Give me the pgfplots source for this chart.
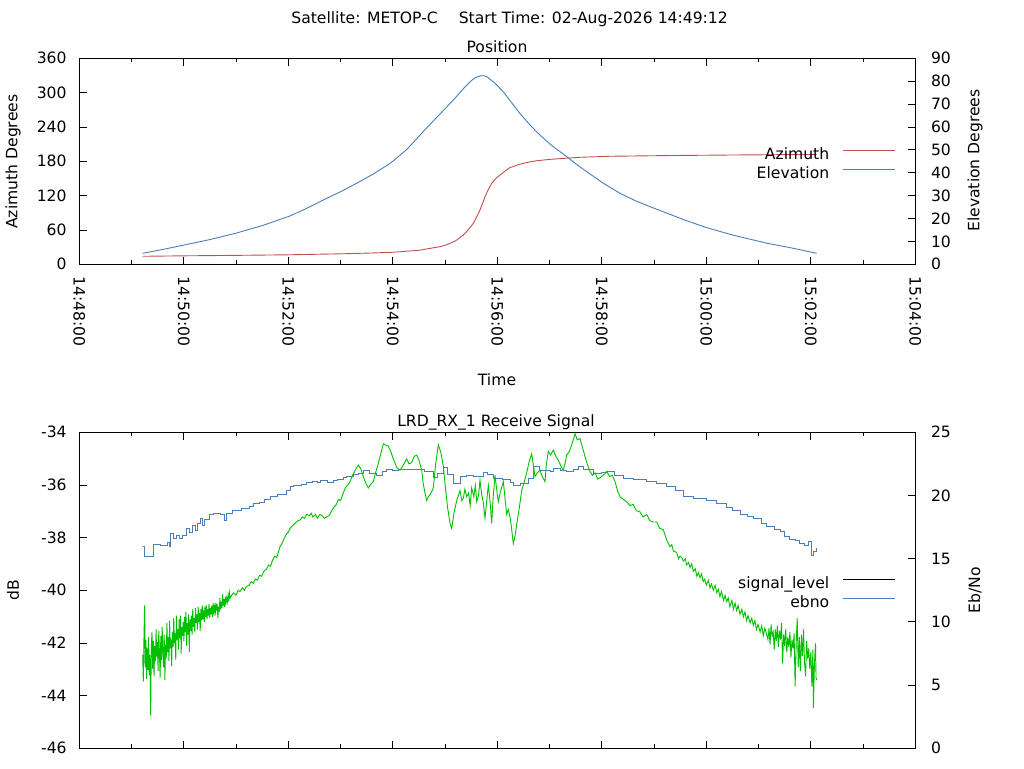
\documentclass[border=0pt]{standalone}
\usepackage{pgfplots}
\pgfplotsset{compat=1.18}
\usepackage{fontspec}
\setmainfont{DejaVu Sans}
\definecolor{azred}{RGB}{192,80,77}
\definecolor{elblue}{RGB}{74,126,187}
\definecolor{ebgreen}{RGB}{0,192,0}

\pgfplotsset{
  base/.style={
    scale only axis, width=836pt, xmin=0, xmax=16,
    xtick={0,2,...,16}, minor xtick={1,3,...,15},
    tick align=inside, major tick length=7.5pt, minor tick length=4pt,
    axis line style={line width=0.9pt}, every tick/.style={black, line width=0.9pt},
    /pgf/number format/assume math mode=true,
    font=\fontsize{15.6}{18}\selectfont,
    yticklabel style={anchor=east, inner xsep=12.5pt, inner ysep=0pt},
    legend style={draw=none, fill=none, inner sep=0pt, row sep=2.5pt, column sep=12pt,
      nodes={inner sep=1pt, text height=11.5pt, text depth=3pt}},
    legend plot pos=right, legend cell align=right,
    legend image code/.code={\draw[#1, line width=0.9pt] (0pt,4.5pt) -- (52pt,4.5pt);},
  },
  rightax/.style={base, hide x axis, ytick pos=right, yticklabel pos=right,
    yticklabel style={anchor=west, inner xsep=15.5pt, inner ysep=0pt}},
}

\begin{document}
\fontsize{15.6}{18}\selectfont
\begin{tikzpicture}
\path[use as bounding box] (0pt,0pt) rectangle (1024pt,768pt);

% ---------------- top panel : Position ----------------
\begin{axis}[base, at={(79.3pt,503.7pt)}, anchor=south west, height=206pt,
  ymin=0, ymax=360, ytick={0,60,...,360}, ytick pos=left,
  xticklabels={14:48:00,14:50:00,14:52:00,14:54:00,14:56:00,14:58:00,15:00:00,15:02:00,15:04:00},
  xticklabel style={rotate=-90, anchor=west, inner sep=12pt}]
\addplot[azred, line width=0.9pt] coordinates {
(1.213,14.0) (2.0,14.8) (3.0,15.6) (4.0,16.6) (5.0,18.3) (5.5,19.5) (6.0,21.0)
(6.5,24.5) (6.903,30.8) (7.03,34.0) (7.2,41.0) (7.349,51.0) (7.45,61.0) (7.541,71.6)
(7.60,82.0) (7.669,95.0) (7.72,107.0) (7.765,118.0) (7.83,131.0) (7.893,141.6)
(7.97,150.0) (8.052,156.0) (8.15,163.0) (8.243,169.0) (8.434,175.0) (8.60,178.5)
(8.754,181.0) (9.0,183.3) (9.263,185.0) (9.583,187.0) (10.16,188.8) (11.24,190.0)
(12.5,191.0) (14.113,192.0)
};
\end{axis}
\begin{axis}[rightax, at={(79.3pt,503.7pt)}, anchor=south west, height=206pt,
  ymin=0, ymax=90, ytick={0,10,...,90},
  legend style={at={(rel axis cs:1,0.5)}, anchor=east, xshift=-20pt, yshift=-3pt}]
\addlegendimage{azred}
\addlegendentry{Azimuth}
\addplot[elblue, line width=0.9pt] coordinates {
(1.213,4.8) (1.6,6.5) (2.0,8.4) (2.5,10.8) (3.0,13.6) (3.5,16.9) (4.03,21.1)
(4.35,24.4) (4.67,28.1) (5.0,31.7) (5.31,35.4) (5.63,39.5) (5.95,44.1) (6.27,50.2)
(6.58,57.9) (6.87,64.9) (7.16,71.8) (7.33,76.2) (7.48,79.8) (7.58,81.6) (7.67,82.3)
(7.74,82.4) (7.80,82.0) (7.95,79.2) (8.115,75.4) (8.27,70.7) (8.43,66.0) (8.59,61.8)
(8.75,57.9) (8.91,54.5) (9.07,51.4) (9.33,47.0) (9.52,43.6) (9.71,40.5) (10.03,35.4)
(10.35,31.0) (10.63,27.9) (10.92,25.2) (11.24,22.4) (11.6,19.2) (12.01,16.0)
(12.5,12.8) (13.16,9.2) (13.6,7.3) (14.113,4.8)
};
\addlegendentry{Elevation}
\end{axis}

% ---------------- bottom panel : Receive signal ----------------
\begin{axis}[base, at={(79.3pt,19.7pt)}, anchor=south west, height=316pt,
  ymin=-46, ymax=-34, ytick={-46,-44,...,-34}, ytick pos=left,
  yticklabels={-46,-44,-42,-40,-38,-36,-34},
  xticklabels={}]
\addplot[elblue, line width=0.9pt, const plot] coordinates {
(1.225,-38.32) (1.244,-38.70) (1.42,-38.24) (1.55,-38.28) (1.68,-38.20) (1.72,-38.35)
(1.74,-37.84) (1.80,-38.05) (1.85,-37.90) (1.92,-38.02) (1.98,-37.92) (2.06,-37.65)
(2.10,-37.80) (2.16,-37.55) (2.22,-37.72) (2.27,-37.45) (2.31,-37.27) (2.36,-37.55)
(2.40,-37.30) (2.50,-37.12) (2.56,-37.10) (2.70,-37.13) (2.78,-37.35) (2.82,-37.08)
(2.94,-36.95) (3.10,-36.88) (3.25,-36.80) (3.33,-36.72) (3.45,-36.68) (3.55,-36.55)
(3.65,-36.45) (3.80,-36.35) (3.97,-36.22) (4.05,-36.05) (4.09,-36.00) (4.25,-35.98)
(4.35,-35.90) (4.47,-35.85) (4.55,-35.92) (4.62,-35.82) (4.75,-35.90) (4.86,-35.81)
(4.95,-35.78) (5.05,-35.72) (5.12,-35.69) (5.25,-35.60) (5.35,-35.55) (5.435,-35.46)
(5.55,-35.55) (5.69,-35.62) (5.80,-35.50) (5.88,-35.41) (6.00,-35.45) (6.10,-35.40)
(6.25,-35.42) (6.46,-35.41) (6.60,-35.50) (6.78,-35.71) (6.85,-35.55) (6.97,-35.34)
(7.05,-35.60) (7.16,-35.96) (7.29,-35.66) (7.40,-35.62) (7.55,-35.68) (7.73,-35.53)
(7.82,-35.60) (7.92,-35.75) (8.05,-35.77) (8.10,-35.78) (8.25,-35.90) (8.31,-36.00)
(8.45,-35.94) (8.60,-35.75) (8.69,-35.31) (8.80,-35.45) (9.01,-35.50) (9.07,-35.37)
(9.20,-35.45) (9.33,-35.50) (9.45,-35.40) (9.55,-35.28) (9.65,-35.42) (9.84,-35.58)
(10.00,-35.52) (10.09,-35.50) (10.25,-35.62) (10.41,-35.77) (10.60,-35.80) (10.86,-35.85)
(11.05,-35.95) (11.24,-36.04) (11.40,-36.20) (11.56,-36.45) (11.75,-36.50) (12.01,-36.57)
(12.20,-36.70) (12.39,-36.85) (12.50,-36.95) (12.645,-37.11) (12.78,-37.20) (12.90,-37.27)
(13.05,-37.45) (13.16,-37.58) (13.30,-37.70) (13.41,-37.78) (13.50,-37.95) (13.60,-38.06)
(13.70,-38.10) (13.79,-38.22) (13.88,-38.30) (13.95,-38.15) (14.017,-38.66) (14.06,-38.52)
(14.113,-38.41)
};
\end{axis}
\begin{axis}[rightax, at={(79.3pt,19.7pt)}, anchor=south west, height=316pt,
  ymin=0, ymax=25, ytick={0,5,...,25},
  legend style={at={(rel axis cs:1,0.5)}, anchor=east, xshift=-20pt, yshift=-3pt}]
\addlegendimage{black}
\addlegendentry{signal\_level}
\addlegendimage{elblue}
\addlegendentry{ebno}
\addplot[ebgreen, line width=0.9pt] coordinates {
(1.213,7.4) (1.225,5.3) (1.238,8.9) (1.250,11.3) (1.262,6.4) (1.275,8.6) (1.288,5.5)
(1.300,7.9) (1.313,6.2) (1.326,8.8) (1.339,5.8) (1.352,7.4) (1.366,2.6) (1.378,8.0)
(1.391,9.2) (1.404,6.3) (1.417,8.5) (1.430,5.7) (1.443,8.1) (1.456,6.9) (1.469,9.4)
(1.482,7.2) (1.495,8.4) (1.508,6.1) (1.521,9.3) (1.534,7.5) (1.547,5.6) (1.560,8.9)
(1.573,7.0) (1.586,9.6) (1.599,7.8) (1.612,6.4) (1.625,9.0) (1.638,5.4) (1.651,8.2)
(1.664,7.1) (1.677,9.9) (1.690,7.6) (1.703,8.8) (1.716,6.9) (1.729,10.1) (1.742,7.9)
(1.755,8.7) (1.768,6.5) (1.781,9.2) (1.794,8.0) (1.807,10.3) (1.820,8.3) (1.833,9.1)
(1.846,7.0) (1.859,10.5) (1.872,8.6) (1.885,9.4) (1.898,7.8) (1.911,10.2) (1.924,8.7)
(1.937,10.5) (1.950,7.5) (1.963,9.6) (1.976,8.9) (1.989,10.0) (2.002,8.5) (2.015,10.4)
(2.028,9.2) (2.041,10.8) (2.054,8.1) (2.067,9.9) (2.080,9.0) (2.093,10.6) (2.106,7.6)
(2.119,10.2) (2.132,9.3) (2.145,10.5) (2.158,9.0) (2.171,11.0) (2.184,9.6) (2.197,10.3)
(2.210,9.2) (2.223,11.1) (2.236,9.9) (2.249,10.6) (2.262,9.4) (2.275,11.2) (2.288,10.0)
(2.301,10.7) (2.314,9.3) (2.327,11.0) (2.340,10.1) (2.353,11.3) (2.366,10.2) (2.379,10.9)
(2.392,10.0) (2.405,11.2) (2.418,10.4) (2.431,11.3) (2.444,10.2) (2.457,11.0) (2.470,10.5)
(2.483,11.4) (2.496,10.3) (2.509,11.1) (2.522,10.6) (2.535,11.3) (2.548,10.4) (2.561,11.5)
(2.574,10.8) (2.587,11.2) (2.600,10.5) (2.613,11.5) (2.626,10.9) (2.639,11.4) (2.652,10.3)
(2.665,11.2) (2.678,10.8) (2.691,11.9) (2.704,11.0) (2.717,11.6) (2.730,11.1) (2.743,12.2)
(2.756,11.3) (2.769,11.8) (2.782,11.2) (2.795,12.0) (2.808,11.5) (2.821,11.9) (2.834,11.6)
(2.847,12.1) (2.860,11.6) (2.873,12.3) (2.886,11.9) (2.900,12.0)
(2.95,12.3) (3.0,12.1) (3.04,12.5) (3.075,12.4) (3.12,12.7) (3.16,12.5) (3.2,12.8)
(3.25,12.9) (3.29,13.2) (3.33,13.05) (3.37,13.4) (3.41,13.3) (3.45,13.7) (3.49,13.6)
(3.53,14.0) (3.587,14.2) (3.62,14.5) (3.66,14.4) (3.70,14.9) (3.74,15.2) (3.78,15.1)
(3.841,15.95) (3.88,16.2) (3.92,16.6) (3.97,17.0) (4.00,17.1) (4.033,17.4) (4.08,17.6)
(4.13,17.8) (4.18,18.0) (4.224,18.06) (4.27,18.3) (4.31,18.2) (4.352,18.5) (4.40,18.4)
(4.44,18.6) (4.47,18.3) (4.52,18.5) (4.56,18.2) (4.60,18.5) (4.65,18.4) (4.69,18.2)
(4.73,18.3) (4.78,18.4) (4.82,18.7) (4.861,19.0) (4.92,19.3) (4.96,19.7) (5.0,19.6)
(5.053,20.2) (5.09,20.6) (5.13,20.8) (5.181,21.1) (5.23,21.6) (5.28,22.0) (5.34,22.4)
(5.39,22.1) (5.435,21.5) (5.48,21.0) (5.531,20.6) (5.58,20.9) (5.627,21.1) (5.67,21.8)
(5.72,22.5) (5.77,23.3) (5.818,24.1) (5.86,24.0) (5.914,23.9) (5.96,23.5) (6.0,23.0)
(6.04,22.6) (6.075,22.2) (6.138,22.0) (6.2,22.4) (6.266,22.9) (6.31,22.5) (6.36,22.6)
(6.41,23.1) (6.457,23.2) (6.50,22.8) (6.553,22.0) (6.58,21.0) (6.616,20.2) (6.649,19.6)
(6.679,19.9) (6.72,20.1) (6.775,20.6) (6.82,22.5) (6.871,24.0) (6.92,23.4) (6.967,22.3)
(7.01,20.5) (7.05,19.0) (7.095,17.8) (7.127,17.4) (7.17,18.6) (7.223,19.6) (7.286,20.4)
(7.32,19.6) (7.35,19.8) (7.38,20.5) (7.414,19.9) (7.45,20.2) (7.48,19.2) (7.51,20.6)
(7.55,19.9) (7.58,20.8) (7.606,19.5) (7.64,20.0) (7.669,21.2) (7.70,20.1) (7.73,19.5)
(7.765,18.2) (7.80,19.7) (7.828,20.8) (7.86,19.6) (7.893,17.8) (7.92,19.8) (7.956,21.6)
(7.99,20.4) (8.019,19.5) (8.06,20.3) (8.115,21.1) (8.15,19.7) (8.18,18.5) (8.21,18.9)
(8.243,18.3) (8.27,17.5) (8.306,16.2) (8.34,16.8) (8.371,17.7) (8.42,19.0) (8.467,20.4)
(8.51,21.0) (8.563,21.8) (8.61,22.7) (8.658,23.3) (8.69,22.4) (8.721,21.5) (8.77,21.8)
(8.817,22.0) (8.86,21.5) (8.913,21.1) (8.94,22.5) (8.976,23.5) (9.02,23.2) (9.072,23.6)
(9.12,23.1) (9.167,22.8) (9.21,22.4) (9.263,22.0) (9.30,22.6) (9.328,23.2) (9.38,23.5)
(9.424,24.0) (9.46,24.5) (9.487,24.9) (9.53,24.4) (9.583,24.5) (9.63,23.8) (9.678,23.1)
(9.72,22.5) (9.774,21.9) (9.82,21.6) (9.87,21.8) (9.92,21.3) (9.965,21.4) (10.03,21.6)
(10.094,21.9) (10.15,21.5) (10.2,21.6) (10.253,21.1) (10.30,20.4) (10.348,19.9) (10.41,19.7)
(10.477,19.5) (10.54,19.2) (10.60,19.3) (10.66,18.8) (10.731,18.7) (10.79,18.3) (10.86,18.5)
(10.92,18.0) (10.986,17.9) (11.05,17.9) (11.11,17.4) (11.177,17.3) (11.24,16.5) (11.305,15.95)
(11.34,16.1) (11.37,15.6) (11.43,15.5) (11.47,15.0) (11.496,15.2) (11.53,15.1) (11.56,14.8)
(11.60,15.0) (11.62,14.5) (11.66,14.7) (11.688,14.3) (11.72,14.6) (11.75,14.0) (11.79,14.2)
(11.82,13.6) (11.85,13.9) (11.879,13.5) (11.91,13.8) (11.94,13.2) (11.97,13.4) (12.0,12.9)
(12.04,13.3) (12.07,12.7) (12.10,13.0) (12.134,12.5) (12.17,12.9) (12.2,12.3) (12.23,12.6)
(12.26,12.0) (12.29,12.4) (12.33,11.7) (12.36,12.1) (12.39,11.6) (12.42,11.9) (12.45,11.2)
(12.49,11.7) (12.52,11.0) (12.55,11.5) (12.58,10.9) (12.61,11.3) (12.645,10.6) (12.68,11.0)
(12.71,10.4) (12.74,10.8) (12.77,10.1) (12.80,10.5) (12.84,9.9) (12.87,10.3) (12.9,9.7)
(12.93,10.1) (12.96,9.4) (12.99,9.8) (13.03,9.2) (13.06,9.7) (13.09,8.9) (13.12,9.5)
(13.156,9.0)
(13.18,8.6) (13.20,9.5) (13.22,8.2) (13.24,9.8) (13.26,8.9) (13.28,9.2) (13.30,7.8)
(13.32,9.4) (13.34,8.5) (13.36,9.7) (13.38,8.0) (13.40,9.3) (13.42,8.6) (13.44,9.9)
(13.46,6.7) (13.48,9.0) (13.50,8.1) (13.52,9.4) (13.54,7.6) (13.56,8.8) (13.58,8.0)
(13.60,9.2) (13.62,7.2) (13.64,8.6) (13.66,7.9) (13.68,9.1) (13.70,4.9) (13.72,8.3)
(13.74,10.3) (13.76,6.4) (13.78,8.8) (13.80,6.1) (13.82,9.0) (13.84,7.3) (13.86,9.4)
(13.88,6.8) (13.90,5.7) (13.92,8.5) (13.94,7.1) (13.96,7.9) (13.98,6.3) (14.00,7.6)
(14.02,4.9) (14.04,7.8) (14.05,3.2) (14.07,6.8) (14.09,8.3) (14.10,5.6) (14.113,5.4)
};
\end{axis}

% ---------------- titles and axis labels ----------------
\node[anchor=base] at (509.6pt,744.7pt) {Satellite: METOP-C\hspace*{16pt} Start Time: 02-Aug-2026 14:49:12};
\node[anchor=base] at (497pt,715.3pt) {Position};
\node[anchor=base] at (497pt,382pt) {Time};
\node[anchor=base] at (496pt,341.3pt) {LRD\_RX\_1 Receive Signal};
\node[rotate=90] at (13pt,606.3pt) {Azimuth Degrees};
\node[rotate=90] at (975pt,607.5pt) {Elevation Degrees};
\node[rotate=90] at (13pt,178pt) {dB};
\node[rotate=90] at (975pt,178pt) {Eb/No};
\end{tikzpicture}
\end{document}
